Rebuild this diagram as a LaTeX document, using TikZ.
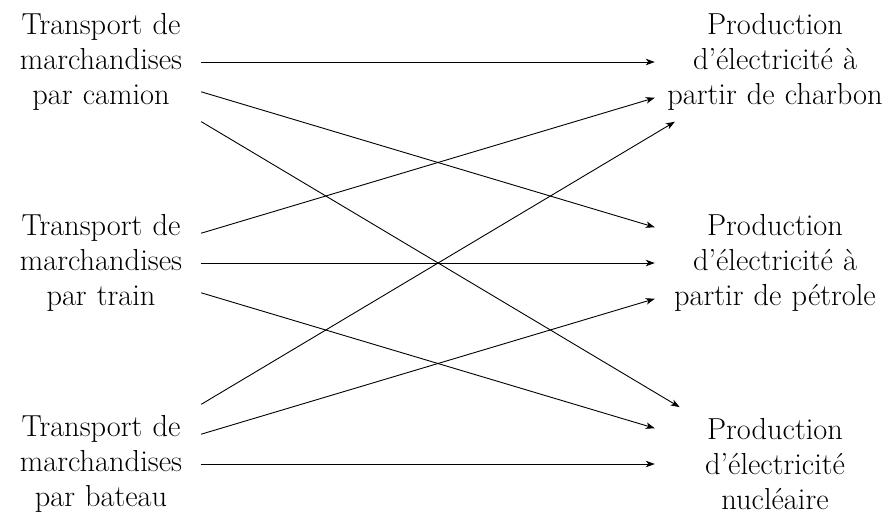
\documentclass[tikz,border=0pt]{standalone}
\usetikzlibrary{arrows.meta}
\tikzset{
  txt/.style={align=center, inner xsep=0pt, inner ysep=11pt, font=\fontsize{30.4}{35}\selectfont},
  srcnode/.style={txt, text width=200pt},
  tgtnode/.style={txt, text width=240pt},
  arr/.style={line width=0.9pt, -{Stealth[length=9pt,width=6.5pt,inset=2.5pt]}}
}
\begin{document}
\begin{tikzpicture}[x=1pt,y=-1pt]
\useasboundingbox (0,0) rectangle (894,517);
\node[srcnode] (cam) at (101,62) {Transport de\\marchandises\\par camion};
\node[srcnode] (tra) at (101,263) {Transport de\\marchandises\\par train};
\node[srcnode] (bat) at (101,464) {Transport de\\marchandises\\par bateau};
\node[tgtnode] (cha) at (775,62) {Production\\d’électricité à\\partir de charbon};
\node[tgtnode] (pet) at (775,263) {Production\\d’électricité à\\partir de pétrole};
\node[tgtnode] (nuc) at (775,464) {Production\\d’électricité\\nucléaire};
\foreach \s in {cam,tra,bat}{
  \foreach \t in {cha,pet,nuc}{
    \draw[arr] (\s) -- (\t);
  }
}
\end{tikzpicture}
\end{document}
